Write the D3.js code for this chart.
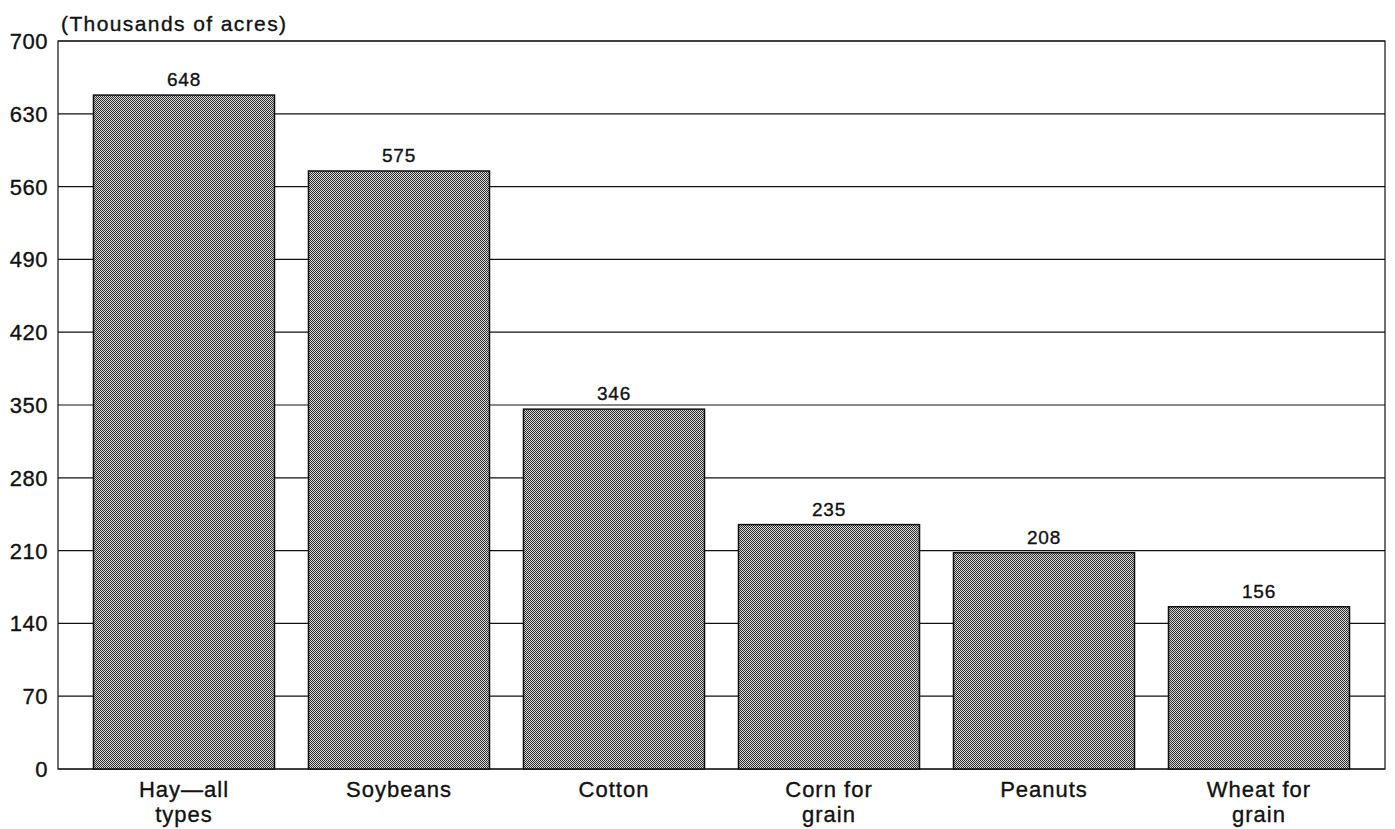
<!DOCTYPE html>
<html><head><meta charset="utf-8">
<script src="https://cdn.jsdelivr.net/npm/d3@7"></script>
<style>
body{margin:0;background:#fff;}
svg{display:block;font-family:"Liberation Sans",Arial,Helvetica,sans-serif;}
svg text{stroke:#111;stroke-width:0.35px;}
</style></head>
<body>
<svg id="chart" width="1395" height="829"></svg>
<script>
const categories = [["Hay\u2014all","types"],["Soybeans"],["Cotton"],["Corn for","grain"],["Peanuts"],["Wheat for","grain"]];
const values = [648, 575, 346, 235, 208, 156];
const yTicks = [0, 70, 140, 210, 280, 350, 420, 490, 560, 630, 700];
const unitLabel = "(Thousands of acres)";

(function(){
const svg = d3.select("#chart");
const mL = 58, mR = 1385, mT = 41, mB = 769;

const defs = svg.append("defs");
const pat = defs.append("pattern").attr("id","chk").attr("patternUnits","userSpaceOnUse")
  .attr("width",2).attr("height",2);
pat.append("rect").attr("width",2).attr("height",2).attr("fill","#dcdcdc");
pat.append("rect").attr("x",0).attr("y",0).attr("width",1).attr("height",1).attr("fill","#2a2a2a");
pat.append("rect").attr("x",1).attr("y",1).attr("width",1).attr("height",1).attr("fill","#2a2a2a");

const x = d3.scaleBand().domain(d3.range(values.length)).range([mL, mR])
  .paddingInner(0.158).paddingOuter(0.165);
const y = d3.scaleLinear().domain([0,700]).range([mB, mT]);

// gridlines
svg.append("g").selectAll("line").data(yTicks).join("line")
  .attr("x1", mL).attr("x2", mR)
  .attr("y1", d => y(d)).attr("y2", d => y(d))
  .attr("stroke","#111").attr("stroke-width",1.2);

// frame
svg.append("rect").attr("x",mL).attr("y",mT).attr("width",mR-mL).attr("height",mB-mT)
  .attr("fill","none").attr("stroke","#111").attr("stroke-width",1.2);

// y tick labels
svg.append("g").selectAll("text").data(yTicks).join("text")
  .attr("x", 48).attr("y", d => y(d)).attr("dy","0.36em")
  .attr("text-anchor","end").attr("font-size",22).attr("letter-spacing",0.5).attr("fill","#111")
  .text(d => d);

svg.append("text").attr("x",61).attr("y",31).attr("font-size",21).attr("letter-spacing",1.4)
  .attr("fill","#111").text(unitLabel);

// bars
svg.append("g").selectAll("rect").data(values).join("rect")
  .attr("x",(d,i)=>x(i)).attr("width",x.bandwidth())
  .attr("y",d=>y(d)).attr("height",d=>mB-y(d))
  .attr("fill","url(#chk)").attr("stroke","#111").attr("stroke-width",1.5);

// value labels
svg.append("g").selectAll("text").data(values).join("text")
  .attr("x",(d,i)=>x(i)+x.bandwidth()/2).attr("y",d=>y(d)-9)
  .attr("text-anchor","middle").attr("font-size",19).attr("letter-spacing",0.8).attr("fill","#111")
  .text(d=>d);

// category labels
const cg = svg.append("g").selectAll("text").data(categories).join("text")
  .attr("x",(d,i)=>x(i)+x.bandwidth()/2).attr("y",797)
  .attr("text-anchor","middle").attr("font-size",22).attr("letter-spacing",1).attr("fill","#111");
cg.selectAll("tspan").data(d=>d).join("tspan")
  .attr("x",function(){return this.parentNode.getAttribute("x");})
  .attr("dy",(d,i)=>i===0?0:25).text(d=>d);
})();
</script>
</body></html>
